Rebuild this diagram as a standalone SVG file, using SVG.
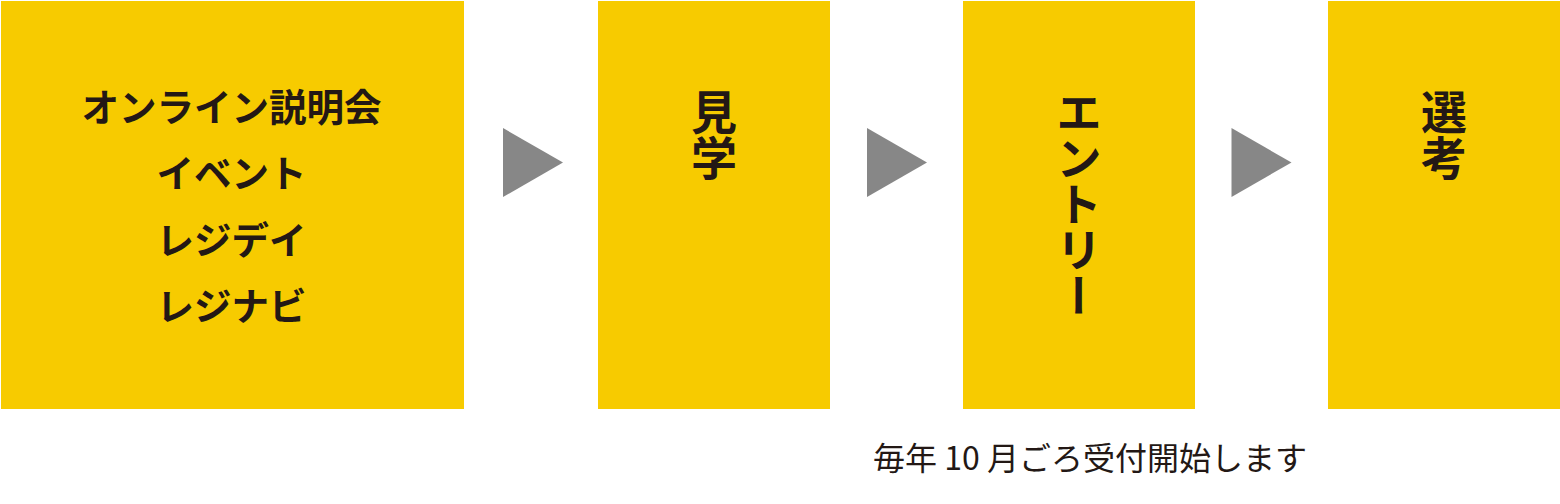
<svg xmlns="http://www.w3.org/2000/svg" width="1560" height="504" viewBox="0 0 1560 504">
<style>
.box{fill:#F7CB00}
.arr{fill:#878787}
.t{font-family:"Noto Sans CJK JP","Noto Sans",sans-serif;font-weight:700;fill:#231815;text-anchor:middle;font-size:37.5px}
.v{font-family:"Noto Sans CJK JP","Noto Sans",sans-serif;font-weight:700;fill:#231815;writing-mode:vertical-rl;font-size:46px}
.cap{font-family:"Noto Sans CJK JP","Noto Sans",sans-serif;font-weight:400;fill:#231815;font-size:32px;text-anchor:middle}
</style>
<rect width="1560" height="504" fill="#fff"/>
<g id="node1">
<rect class="box" x="1" y="1" width="463" height="408"/>
<text class="t" x="231.5" y="121">オンライン説明会</text>
<text class="t" x="231.5" y="187">イベント</text>
<text class="t" x="231.5" y="254">レジデイ</text>
<text class="t" x="231.5" y="320">レジナビ</text>
</g>
<g id="node2">
<rect class="box" x="598" y="1" width="232" height="408"/>
<text class="v" x="714" y="89">見学</text>
</g>
<g id="node3">
<rect class="box" x="963" y="1" width="232" height="408"/>
<text class="v" x="1079" y="89">エントリー</text>
</g>
<g id="node4">
<rect class="box" x="1328" y="1" width="232" height="408"/>
<text class="v" x="1444" y="89">選考</text>
</g>
<g id="connectors">
<polygon class="arr" points="503,128 563,162.5 503,197"/>
<polygon class="arr" points="867,128 927,162.5 867,197"/>
<polygon class="arr" points="1231.5,128 1291.5,162.5 1231.5,197"/>
</g>
<g id="caption">
<text class="cap" x="1090" y="470">毎年 10 月ごろ受付開始します</text>
</g>
</svg>
